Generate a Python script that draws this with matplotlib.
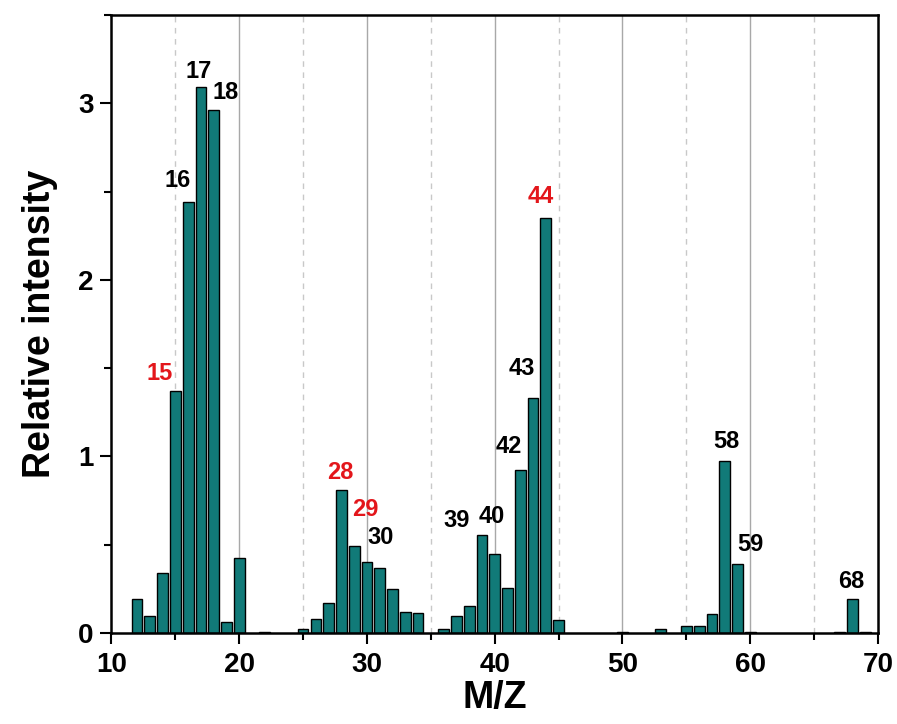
import matplotlib
matplotlib.use("Agg")
import matplotlib.pyplot as plt
from matplotlib.ticker import MultipleLocator

plt.rcParams['font.family'] = ['Liberation Sans', 'DejaVu Sans']
plt.rcParams['font.weight'] = 'bold'

# ---- data ----
mz = [12, 13, 14, 15, 16, 17, 18, 19, 20, 22,
      25, 26, 27, 28, 29, 30, 31, 32, 33, 34,
      36, 37, 38, 39, 40, 41, 42, 43, 44, 45,
      50, 53, 55, 56, 57, 58, 59, 60, 67, 68, 69]
intensity = [0.19, 0.094, 0.34, 1.37, 2.44, 3.09, 2.96, 0.06, 0.425, 0.005,
             0.02, 0.08, 0.17, 0.81, 0.49, 0.40, 0.37, 0.25, 0.12, 0.115,
             0.02, 0.095, 0.155, 0.555, 0.45, 0.255, 0.925, 1.33, 2.35, 0.075,
             0.005, 0.02, 0.04, 0.04, 0.105, 0.975, 0.39, 0.005, 0.005, 0.19, 0.005]

labeled_peaks = [15, 16, 17, 18, 28, 29, 30, 39, 40, 42, 43, 44, 58, 59, 68]
red_peaks = [15, 28, 29, 44]

x_ticks = [10, 20, 30, 40, 50, 60, 70]
y_ticks = [0, 1, 2, 3]

# ---- label placement (offsets from bar top, in data units) ----
label_offsets = {
    15: (-1.2, 0.10), 16: (-0.8, 0.12), 17: (-0.15, 0.09), 18: (0.9, 0.10),
    28: (-0.1, 0.10), 29: (0.85, 0.21), 30: (1.1, 0.14),
    39: (-2.0, 0.08), 40: (-0.2, 0.21), 42: (-0.9, 0.13), 43: (-0.85, 0.17),
    44: (-0.4, 0.12), 58: (0.1, 0.11), 59: (1.0, 0.11), 68: (-0.1, 0.10),
}

bar_color = '#117a78'

fig = plt.figure(figsize=(8.97, 7.24), dpi=100)
ax = fig.add_axes([0.1243, 0.1257, 0.9788 - 0.1243, 0.9793 - 0.1257])

# grid lines
for gx in [20, 30, 40, 50, 60]:
    ax.axvline(gx, color='#a8a8a8', lw=1.0, zorder=0)
for gx in [15, 25, 35, 45, 55, 65]:
    ax.axvline(gx, color='#c8c8c8', lw=1.0, ls=(0, (4, 4)), zorder=0)

ax.bar(mz, intensity, width=0.84, color=bar_color, edgecolor='black',
       linewidth=1.0, zorder=2)

val = dict(zip(mz, intensity))
for p in labeled_peaks:
    dx, dy = label_offsets[p]
    ax.text(p + dx, val[p] + dy, str(p), ha='center', va='center',
            fontsize=17, fontweight='bold',
            color='#e3161b' if p in red_peaks else 'black', zorder=3)

ax.set_xlim(10, 70)
ax.set_ylim(0, 3.5)
ax.set_xticks(x_ticks)
ax.set_yticks(y_ticks)
ax.xaxis.set_minor_locator(MultipleLocator(5))
ax.yaxis.set_minor_locator(MultipleLocator(0.5))

ax.tick_params(axis='both', which='major', direction='out', length=8, width=1.5,
               labelsize=20)
ax.tick_params(axis='x', which='major', pad=6)
ax.tick_params(axis='y', which='major', pad=5)
ax.tick_params(axis='both', which='minor', direction='out', length=5, width=1.5)
ax.tick_params(top=False, right=False, which='both')
for lbl in ax.get_xticklabels() + ax.get_yticklabels():
    lbl.set_fontweight('bold')

for s in ax.spines.values():
    s.set_linewidth(1.8)

ax.set_xlabel('M/Z', fontsize=27, fontweight='bold', labelpad=1)
ax.set_ylabel('Relative intensity', fontsize=27, fontweight='bold', labelpad=14)

fig.savefig('out.png', dpi=100)
